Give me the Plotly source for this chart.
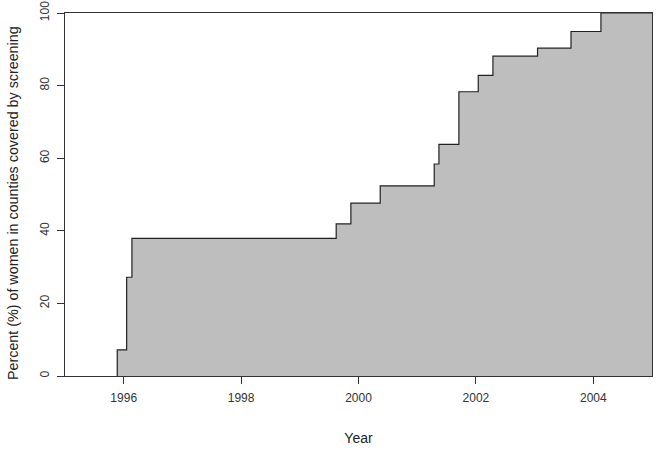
import plotly.graph_objects as go

# Step positions (year of increase) and cumulative coverage (%)
years = [1995.89, 1996.05, 1996.14, 1999.62, 1999.87, 2000.37, 2001.29, 2001.37,
         2001.71, 2002.04, 2002.29, 2003.05, 2003.62, 2004.13, 2005.0]
pct = [7.2, 27.2, 37.9, 41.9, 47.6, 52.4, 58.4, 63.8,
       78.3, 82.8, 88.1, 90.3, 94.9, 100.0, 100.0]

x_ticks = [1996, 1998, 2000, 2002, 2004]
y_ticks = [0, 20, 40, 60, 80, 100]

xs = [years[0]] + years
ys = [0] + pct

FONT = "Liberation Sans, Arial, sans-serif"
AX = "#333333"

fig = go.Figure()
fig.add_trace(go.Scatter(
    x=xs, y=ys, mode="lines", line=dict(shape="hv", color="#222222", width=1.2),
    fill="tozeroy", fillcolor="#BEBEBE", hoverinfo="x+y", showlegend=False,
))

fig.update_layout(
    width=657, height=450,
    margin=dict(l=65, r=5, t=13, b=74),
    paper_bgcolor="white", plot_bgcolor="white",
    font=dict(family=FONT, size=12, color=AX),
)
fig.update_xaxes(
    range=[1995, 2005], tickvals=x_ticks, ticktext=[str(t) for t in x_ticks],
    showgrid=False, zeroline=False, showline=True, linecolor=AX, linewidth=1.2,
    mirror=True, ticks="outside", ticklen=7, tickcolor=AX, automargin=False,
    tickfont=dict(size=12, color="#333333"), ticklabelstandoff=3,
    title=dict(text="Year", font=dict(size=14, color="#222222"), standoff=29),
)
fig.update_yaxes(
    range=[0, 100], tickvals=y_ticks, ticktext=[str(t) for t in y_ticks],
    showgrid=False, zeroline=False, showline=True, linecolor=AX, linewidth=1.2,
    mirror=True, ticks="outside", ticklen=7, tickcolor=AX, tickangle=-90,
    automargin=False,
    tickfont=dict(size=12, color="#333333"), ticklabelstandoff=3,
)
fig.add_annotation(
    text="Percent (%) of women in counties covered by screening",
    xref="paper", yref="paper", x=-0.0886, y=0.4766,
    xanchor="center", yanchor="middle", textangle=-90, showarrow=False,
    font=dict(size=14.3, color="#222222"),
)

fig.write_html("out.html", config={"displayModeBar": False},
               post_script="document.body.style.margin='0';document.body.style.overflow='hidden';")
